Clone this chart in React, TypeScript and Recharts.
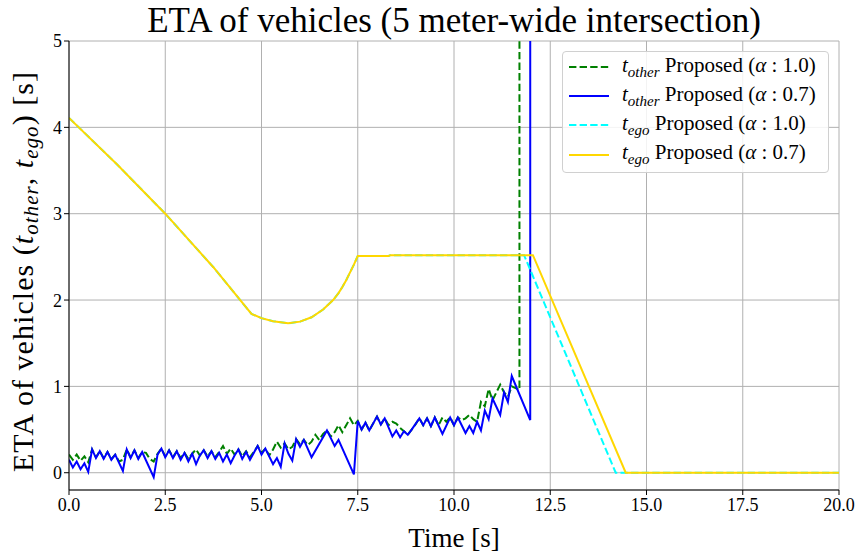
import React from 'react'
import { CartesianGrid, Line, LineChart, XAxis, YAxis } from 'recharts'

const FONT = '"Liberation Serif", "DejaVu Serif", serif'

const X_TICKS = [0, 2.5, 5, 7.5, 10, 12.5, 15, 17.5, 20]
const Y_TICKS = [0, 1, 2, 3, 4, 5]

// t_other, alpha 0.7 (blue)
const blueT = [
  0.0, 0.1, 0.2, 0.3, 0.4, 0.5, 0.6, 0.7, 0.8, 0.9, 1.0, 1.1, 1.2, 1.4, 1.5, 1.6, 1.7, 1.8, 1.9,
  2.2, 2.3, 2.4, 2.5, 2.6, 2.7, 2.8, 2.9, 3.0, 3.1, 3.2, 3.3, 3.4, 3.5, 3.6, 3.7, 3.8, 3.9, 4.0,
  4.1, 4.2, 4.3, 4.4, 4.5, 4.6, 4.7, 4.9, 5.0, 5.1, 5.3, 5.4, 5.5, 5.6, 5.7, 5.8, 5.9, 6.0, 6.1,
  6.3, 6.7, 6.9, 7.0, 7.4, 7.5, 7.6, 7.7, 7.8, 8.0, 8.1, 8.2, 8.4, 8.5, 8.6, 8.7, 8.8, 8.9, 9.1,
  9.2, 9.3, 9.4, 9.5, 9.7, 9.9, 10.0, 10.1, 10.3, 10.4, 10.5, 10.6, 10.7, 10.8, 10.9, 11.0, 11.2,
  11.3, 11.4, 11.5, 11.98, 11.98,
]
const blueY = [
  0.15, 0.06, 0.13, 0.04, 0.11, 0.01, 0.27, 0.17, 0.25, 0.16, 0.24, 0.15, 0.21, 0.02, 0.27, 0.17,
  0.26, 0.16, 0.24, -0.05, 0.21, 0.28, 0.18, 0.26, 0.17, 0.25, 0.15, 0.23, 0.13, 0.22, 0.1, 0.2,
  0.26, 0.17, 0.25, 0.16, 0.23, 0.13, 0.21, 0.11, 0.2, 0.27, 0.16, 0.24, 0.15, 0.31, 0.21, 0.28,
  0.1, 0.17, 0.07, 0.34, 0.22, 0.14, 0.39, 0.3, 0.38, 0.18, 0.49, 0.31, 0.38, -0.02, 0.6, 0.5,
  0.58, 0.49, 0.65, 0.56, 0.63, 0.42, 0.49, 0.41, 0.48, 0.44, 0.5, 0.63, 0.55, 0.63, 0.54, 0.64,
  0.45, 0.64, 0.55, 0.64, 0.46, 0.54, 0.46, 0.59, 0.49, 0.72, 0.62, 0.86, 0.67, 0.93, 0.82, 1.12,
  0.61, 60,
]

// t_other, alpha 1.0 (green dashed)
const greenT = [
  0.0, 0.1, 0.2, 0.3, 0.4, 0.5, 0.6, 0.7, 0.8, 0.9, 1.0, 1.1, 1.2, 1.3, 1.4, 1.5, 1.6, 1.7, 1.8,
  1.9, 2.0, 2.1, 2.2, 2.3, 2.4, 2.5, 2.6, 2.7, 2.8, 2.9, 3.0, 3.1, 3.2, 3.3, 3.4, 3.5, 3.6, 3.7,
  3.8, 3.9, 4.0, 4.1, 4.2, 4.3, 4.4, 4.5, 4.6, 4.7, 4.8, 4.9, 5.0, 5.1, 5.2, 5.3, 5.4, 5.5, 5.6,
  5.7, 5.8, 5.9, 6.0, 6.1, 6.2, 6.3, 6.4, 6.5, 6.6, 6.7, 6.8, 6.9, 7.0, 7.1, 7.2, 7.3, 7.4, 7.5,
  7.6, 7.7, 7.8, 7.9, 8.0, 8.1, 8.2, 8.3, 8.4, 8.5, 8.6, 8.7, 8.8, 8.9, 9.0, 9.1, 9.2, 9.3, 9.4,
  9.5, 9.6, 9.7, 9.8, 9.9, 10.0, 10.1, 10.2, 10.3, 10.4, 10.5, 10.6, 10.7, 10.8, 10.9, 11.0, 11.1,
  11.2, 11.3, 11.4, 11.5, 11.7, 11.7,
]
const greenY = [
  0.21, 0.15, 0.21, 0.14, 0.19, 0.12, 0.27, 0.18, 0.25, 0.17, 0.24, 0.16, 0.21, 0.13, 0.15, 0.27,
  0.18, 0.26, 0.17, 0.24, 0.23, 0.16, 0.13, 0.22, 0.28, 0.19, 0.26, 0.18, 0.25, 0.17, 0.23, 0.16,
  0.22, 0.27, 0.2, 0.26, 0.19, 0.25, 0.18, 0.24, 0.31, 0.22, 0.28, 0.21, 0.27, 0.19, 0.25, 0.18,
  0.24, 0.31, 0.23, 0.28, 0.2, 0.27, 0.36, 0.29, 0.34, 0.27, 0.3, 0.39, 0.33, 0.38, 0.32, 0.36,
  0.44, 0.38, 0.45, 0.49, 0.42, 0.47, 0.55, 0.47, 0.55, 0.63, 0.55, 0.6, 0.5, 0.58, 0.49, 0.57,
  0.65, 0.56, 0.63, 0.55, 0.59, 0.57, 0.52, 0.48, 0.44, 0.5, 0.56, 0.63, 0.55, 0.63, 0.54, 0.64,
  0.55, 0.64, 0.59, 0.64, 0.55, 0.64, 0.61, 0.63, 0.67, 0.62, 0.59, 0.82, 0.77, 0.97, 0.84, 0.93,
  1.02, 0.93, 0.88, 1.0, 0.96, 60,
]

// t_ego, alpha 0.7 (gold)
const yellowT = [
  0, 1.25, 2.5, 3.75, 4.74, 5.0, 5.3, 5.69, 6.0, 6.3, 6.6, 6.86, 7.0, 7.1, 7.2, 7.3, 7.4, 7.5, 8.3,
  8.35, 12.05, 14.46, 20,
]
const yellowY = [
  4.11, 3.57, 3.0, 2.38, 1.84, 1.79, 1.755, 1.73, 1.75, 1.8, 1.89, 2.0, 2.08, 2.15, 2.23, 2.32,
  2.41, 2.51, 2.51, 2.52, 2.52, 0, 0,
]

// t_ego, alpha 1.0 (cyan dashed)
const cyanT = [
  0, 1.25, 2.5, 3.75, 4.74, 5.0, 5.3, 5.69, 6.0, 6.3, 6.6, 6.86, 7.0, 7.1, 7.2, 7.3, 7.4, 7.5, 8.3,
  8.35, 11.82, 14.2, 20,
]
const cyanY = [
  4.11, 3.57, 3.0, 2.38, 1.84, 1.79, 1.755, 1.73, 1.75, 1.8, 1.89, 2.0, 2.08, 2.15, 2.23, 2.32,
  2.41, 2.51, 2.51, 2.52, 2.52, 0, 0,
]

const toPoints = (ts: number[], ys: number[]) => ts.map((t, i) => ({ t, v: ys[i] }))

const greenData = toPoints(greenT, greenY)
const blueData = toPoints(blueT, blueY)
const cyanData = toPoints(cyanT, cyanY)
const yellowData = toPoints(yellowT, yellowY)

const LEGEND = [
  { sub: 'other', alpha: '1.0', color: '#008000', dash: true },
  { sub: 'other', alpha: '0.7', color: '#0000ff', dash: false },
  { sub: 'ego', alpha: '1.0', color: '#00ffff', dash: true },
  { sub: 'ego', alpha: '0.7', color: '#ffd700', dash: false },
]

function XTick({ x, y, payload }: any) {
  return (
    <text x={x} y={y} dy="0.75em" textAnchor="middle" fontSize={18} fontFamily={FONT} fill="#000">
      {Number(payload.value).toFixed(1)}
    </text>
  )
}

function YTick({ x, y, payload }: any) {
  return (
    <text x={x} y={y} dy="0.36em" textAnchor="end" fontSize={18} fontFamily={FONT} fill="#000">
      {payload.value}
    </text>
  )
}

function YLabel() {
  return (
    <text
      transform="translate(33,272) rotate(-90)"
      textAnchor="middle"
      fontSize={30}
      fontFamily={FONT}
      fill="#000"
      textLength={400}
      lengthAdjust="spacing"
    >
      ETA of vehicles (<tspan fontStyle="italic">t</tspan>
      <tspan fontStyle="italic" fontSize={21} dy={5}>other</tspan>
      <tspan dy={-5}>, </tspan>
      <tspan fontStyle="italic">t</tspan>
      <tspan fontStyle="italic" fontSize={21} dy={5}>ego</tspan>
      <tspan dy={-5}>) [s]</tspan>
    </text>
  )
}

function ChartLegend() {
  return (
    <div
      style={{
        position: 'absolute',
        left: 562,
        top: 51,
        width: 267,
        height: 122,
        boxSizing: 'border-box',
        border: '1px solid #d0d0d0',
        borderRadius: 4,
        background: 'rgba(255,255,255,0.85)',
        fontFamily: FONT,
        fontSize: 21,
        padding: '0 0 0 5px',
      }}
    >
      {LEGEND.map((d, i) => (
        <div key={i} style={{ display: 'flex', alignItems: 'center', height: 29.3 }}>
          <svg width={42} height={10} style={{ marginRight: 12 }}>
            <line
              x1={1}
              x2={41}
              y1={5}
              y2={5}
              stroke={d.color}
              strokeWidth={2}
              strokeDasharray={d.dash ? '7.4 3.2' : undefined}
            />
          </svg>
          <span style={{ whiteSpace: 'nowrap' }}>
            <i>t</i>
            <sub style={{ fontSize: 15, fontStyle: 'italic' }}>{d.sub}</sub> Proposed (<i>α</i> :{' '}
            {d.alpha})
          </span>
        </div>
      ))}
    </div>
  )
}

export default function App() {
  return (
    <div style={{ position: 'absolute', left: 0, top: 0, width: 860, height: 556, background: '#fff' }}>
      <div
        style={{
          position: 'absolute',
          left: 0,
          width: 908,
          top: 0,
          textAlign: 'center',
          fontFamily: FONT,
          fontSize: 35,
          lineHeight: '42px',
          whiteSpace: 'nowrap',
        }}
      >
        ETA of vehicles (5 meter-wide intersection)
      </div>
      <LineChart
        width={860}
        height={556}
        margin={{ top: 41, right: 21, left: 9, bottom: 26 }}
        style={{ fontFamily: FONT }}
      >
        <CartesianGrid stroke="#b0b0b0" strokeWidth={1} />
        <XAxis
          type="number"
          dataKey="t"
          domain={[0, 20]}
          ticks={X_TICKS}
          tick={<XTick />}
          tickSize={5}
          height={40}
          allowDataOverflow
          stroke="#000"
          interval={0}
          label={{
            value: 'Time [s]',
            position: 'insideBottom',
            offset: -17,
            fontSize: 27,
            fontFamily: FONT,
            fill: '#000',
          }}
        />
        <XAxis
          xAxisId="top"
          orientation="top"
          type="number"
          domain={[0, 20]}
          height={0}
          tick={false}
          tickLine={false}
          stroke="#000"
        />
        <YAxis
          type="number"
          domain={[-0.2, 5]}
          ticks={Y_TICKS}
          tick={<YTick />}
          tickSize={5}
          width={60}
          allowDataOverflow
          stroke="#000"
          interval={0}
          label={{ content: () => <YLabel /> }}
        />
        <YAxis
          yAxisId="right"
          orientation="right"
          type="number"
          domain={[0, 1]}
          width={0}
          tick={false}
          tickLine={false}
          stroke="#000"
        />
        <Line
          data={greenData}
          dataKey="v"
          type="linear"
          stroke="#008000"
          strokeWidth={2}
          strokeDasharray="7.4 3.2"
          dot={false}
          isAnimationActive={false}
        />
        <Line
          data={blueData}
          dataKey="v"
          type="linear"
          stroke="#0000ff"
          strokeWidth={2}
          dot={false}
          isAnimationActive={false}
        />
        <Line
          data={cyanData}
          dataKey="v"
          type="linear"
          stroke="#00ffff"
          strokeWidth={2}
          strokeDasharray="7.4 3.2"
          dot={false}
          isAnimationActive={false}
        />
        <Line
          data={yellowData}
          dataKey="v"
          type="linear"
          stroke="#ffd700"
          strokeWidth={2}
          dot={false}
          isAnimationActive={false}
        />
      </LineChart>
      <ChartLegend />
    </div>
  )
}
